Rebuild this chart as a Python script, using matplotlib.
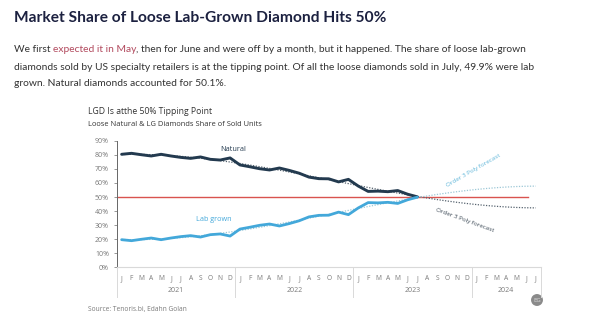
import numpy as np
import matplotlib
matplotlib.use("Agg")
import matplotlib.pyplot as plt

# monthly share of loose diamonds sold (%), Jan 2021 - Jul 2023
natural = [80.5, 81.2, 80.2, 79.3, 80.5, 79.3, 78.3, 77.6, 78.6, 76.9, 76.4, 77.9,
           72.9, 71.6, 70.2, 69.3, 70.7, 69.0, 67.0, 64.2, 63.1, 63.0, 60.8, 62.6,
           57.8, 54.0, 54.2, 53.8, 54.6, 52.0, 50.1]
lab_grown = [19.5, 18.8, 19.8, 20.7, 19.5, 20.7, 21.7, 22.4, 21.4, 23.1, 23.6, 22.1,
             27.1, 28.4, 29.8, 30.7, 29.3, 31.0, 33.0, 35.8, 36.9, 37.0, 39.2, 37.4,
             42.2, 46.0, 45.8, 46.2, 45.4, 48.0, 49.9]
month_letters = list("JFMAMJJASOND")
years = ["2021", "2022", "2023", "2024"]
months_in_year = [12, 12, 12, 7]
forecast_months = 12
tipping = 50

navy = "#1c2140"
dark = "#233a4f"
blue = "#43a8da"
grey = "#7a7a7a"
body = "#333333"

fig = plt.figure(figsize=(6, 3.23), dpi=100)
fig.patch.set_facecolor("white")

# full-figure axes for the header text
bg = fig.add_axes([0, 0, 1, 1])
bg.axis("off")
bg.set_xlim(0, 600)
bg.set_ylim(323, 0)

bg.text(14, 18, "Market Share of Loose Lab-Grown Diamond Hits 50%",
        family="Lato", weight="bold", fontsize=11.2, color=navy, va="center")
fs = 7.35
t1 = bg.text(14, 49, "We first ", family="Lato", fontsize=fs, color=body, va="center")
t2 = bg.annotate("expected it in May", xycoords=t1, xy=(1, 0), va="bottom",
                 family="Lato", fontsize=fs, color="#b24a5e")
bg.annotate(", then for June and were off by a month, but it happened. The share of loose lab-grown",
            xycoords=t2, xy=(1, 0), va="bottom", family="Lato", fontsize=fs, color=body)
bg.text(14, 67,
        "diamonds sold by US specialty retailers is at the tipping point. Of all the loose diamonds sold in July, 49.9% were lab",
        family="Lato", fontsize=fs, color=body, va="center")
bg.text(14, 84, "grown. Natural diamonds accounted for 50.1%.",
        family="Lato", fontsize=fs, color=body, va="center")

# chart titles
bg.text(88, 112, "LGD Is atthe 50% Tipping Point", family="Open Sans",
        fontsize=6.2, color="#333333", va="center")
bg.text(88, 124, "Loose Natural & LG Diamonds Share of Sold Units",
        family="Open Sans", fontsize=5.4, color="#333333", va="center")
bg.text(88, 309, "Source: Tenoris.bi, Edahn Golan", family="Open Sans",
        fontsize=4.8, color=grey, va="center")
bg.text(537, 300, "EG", fontsize=4.3, color="#dddddd", ha="center",
        va="center", family="Open Sans",
        bbox=dict(boxstyle="circle,pad=0.35", fc="#8a8a8a", ec="none"))

ax = fig.add_axes([116.7 / 600, 56 / 323, 424 / 600, 126 / 323])
n_total = sum(months_in_year)
x = np.arange(len(natural))
x_all = np.arange(len(natural) + forecast_months)

# order 3 poly trend lines
for series, col in [(natural, "#55626e"), (lab_grown, "#9cc7d6")]:
    coef = np.polyfit(x, series, 3)
    ax.plot(x_all, np.polyval(coef, x_all), ls=(0, (1, 1.2)), lw=0.9, color=col, zorder=2)

ax.plot([-0.5, 41.2], [tipping, tipping], color="#d9534f", lw=1.0, zorder=1)
ax.plot(x, natural, color=dark, lw=2.1, zorder=3, solid_capstyle="round")
ax.plot(x, lab_grown, color=blue, lw=2.0, zorder=3, solid_capstyle="round")

ax.set_xlim(-0.5, n_total - 0.5)
ax.set_ylim(0, 90)
ax.set_yticks(range(0, 91, 10))
ax.set_yticklabels([f"{v}%" for v in range(0, 91, 10)], family="Open Sans",
                   fontsize=5.0, color=grey)
ax.tick_params(axis="y", length=2.5, width=0.6, color="#888888", pad=3)
ax.set_xticks([])
for s in ["top", "right"]:
    ax.spines[s].set_visible(False)
ax.spines["left"].set_color("#666666")
ax.spines["left"].set_linewidth(0.7)
ax.spines["bottom"].set_color("#d9d9d9")
ax.spines["bottom"].set_linewidth(0.8)

# month and year labels
trans = ax.get_xaxis_transform()
pos = 0
edges = [-0.5]
for yr, n in zip(years, months_in_year):
    for k in range(n):
        ax.text(pos + k, -0.09, month_letters[k], transform=trans, ha="center", va="center",
                family="Open Sans", fontsize=4.8, color=grey)
    ax.text(pos + (n - 1) / 2, -0.19, yr, transform=trans, ha="center", va="center",
            family="Open Sans", fontsize=5.0, color=grey)
    pos += n
    edges.append(pos - 0.5)
for e in edges:
    ax.plot([e, e], [0, -0.24], transform=trans, color="#d9d9d9", lw=0.7, clip_on=False)

# series labels
ax.text(11.3, 83.6, "Natural", ha="center", va="center", family="Open Sans",
        fontsize=5.2, color=dark)
ax.text(9.3, 33.6, "Lab grown", ha="center", va="center", family="Open Sans",
        fontsize=5.2, color=blue)
ax.text(35.7, 69.3, "Order 3 Poly forecast", ha="center", va="center", rotation=30,
        family="Open Sans", fontsize=4.5, color="#5fb6d9")
ax.text(34.8, 33.6, "Order 3 Poly forecast", ha="center", va="center", rotation=-20,
        family="Open Sans", fontsize=4.5, color="#3d4a57")

fig.savefig("out.png", dpi=100, facecolor="white")
